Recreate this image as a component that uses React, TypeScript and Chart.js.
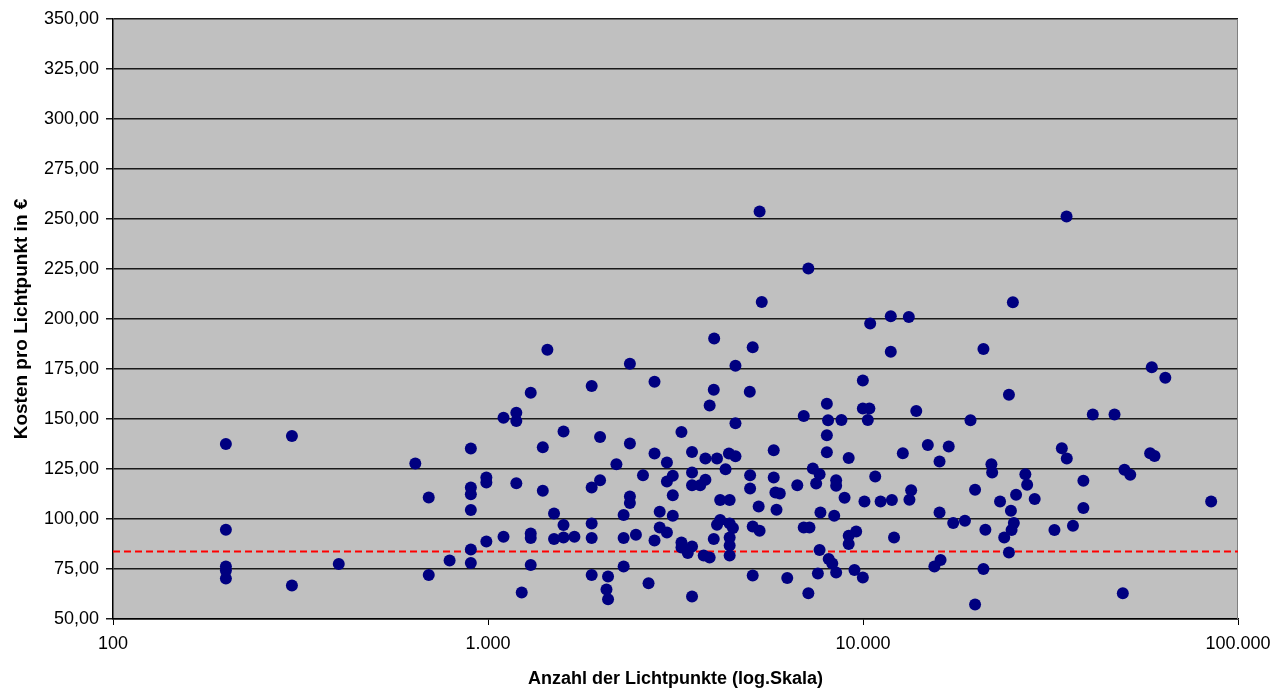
import React, { useEffect, useRef } from "react";
import { Chart, registerables } from "chart.js";

Chart.register(...registerables);

// Anzahl der Lichtpunkte (x) and Kosten pro Lichtpunkt in € (y), same order
const lichtpunkte: number[] = [
  200, 300, 200, 200, 200, 200, 300, 400, 1440, 2390,
  2780, 1890, 1300, 1190, 1100, 1190, 1590, 1990, 2390, 2780,
  900, 1400, 640, 2200, 2590, 990, 990, 1190, 900, 900,
  1400, 1890, 1990, 2390, 2390, 695, 900, 1500, 2300, 2870,
  1890, 1590, 2870, 1100, 1300, 1300, 990, 1500, 1590, 1700,
  1890, 2300, 2480, 2780, 900, 900, 790, 1300, 2300, 695,
  1890, 2090, 2680, 2070, 2090, 1230, 7150, 5370, 4010, 5080,
  4570, 10450, 11860, 11860, 4000, 3900, 4990, 9990, 4570, 3280,
  6950, 8010, 8070, 8760, 8010, 8010, 9990, 10400, 10300, 9160,
  3000, 3500, 3800, 4080, 4390, 4570, 5780, 3000, 3110, 3500,
  3800, 3680, 3500, 4300, 5000, 5000, 5780, 5840, 6000, 6680,
  7350, 7660, 7500, 8480, 8480, 10780, 3110, 4160, 4410, 5270,
  5880, 8930, 10090, 11140, 11940, 3110, 7700, 8380, 4160, 4080,
  4410, 4500, 5080, 5300, 6950, 7200, 3000, 3280, 3280, 3500,
  3410, 4000, 3760, 3900, 4410, 4410, 4410, 7660, 8100, 8280,
  8480, 7580, 9160, 9160, 9590, 9490, 9990, 12100, 3500, 5080,
  6280, 7150, 5300, 34900, 13250, 25100, 20950, 24500, 13870, 19350,
  41000, 46850, 12770, 14890, 16930, 16000, 22000, 22100, 27100, 27400,
  38700, 49800, 51600, 13440, 13300, 19900, 23200, 25600, 28700, 38700,
  16000, 17400, 18700, 24800, 25250, 24900, 21200, 23800, 32400, 36300,
  24500, 15500, 16100, 20950, 19900, 49300, 58900, 64000, 33900, 34950,
  58300, 59900, 84800,
];

const kosten: number[] = [
  137.5, 141.5, 94.6, 76.3, 74.2, 70.3, 66.7, 77.5, 184.6, 177.6,
  168.6, 166.5, 163.1, 153.1, 150.6, 149.0, 143.7, 141.0, 137.7, 132.7,
  135.2, 135.9, 127.7, 127.4, 121.9, 120.7, 118.2, 117.9, 115.7, 112.4,
  114.1, 115.7, 119.4, 111.2, 108.0, 110.7, 104.5, 102.8, 102.0, 103.6,
  97.8, 97.0, 95.8, 91.1, 92.8, 90.5, 88.8, 90.0, 90.8, 91.1,
  90.5, 90.5, 92.1, 89.2, 84.8, 78.0, 79.2, 77.0, 76.2, 72.0,
  72.0, 71.3, 67.9, 64.7, 59.9, 63.2, 225.2, 208.5, 190.2, 185.9,
  176.6, 197.7, 201.4, 183.6, 164.6, 156.8, 163.6, 169.3, 147.9, 143.5,
  151.5, 157.6, 149.4, 149.5, 141.9, 133.4, 155.3, 155.3, 149.5, 130.5,
  128.2, 133.5, 130.2, 130.2, 132.7, 131.4, 134.4, 118.7, 121.6, 123.2,
  119.6, 116.9, 116.9, 124.9, 121.9, 115.2, 120.7, 113.2, 112.7, 116.9,
  125.2, 122.4, 117.7, 119.4, 116.6, 121.2, 111.9, 109.5, 109.5, 106.3,
  104.6, 110.6, 108.8, 108.8, 109.5, 101.6, 103.3, 101.6, 99.5, 97.1,
  97.8, 95.5, 96.3, 94.1, 95.8, 95.8, 93.3, 88.3, 85.8, 86.2,
  83.0, 90.0, 81.7, 80.8, 90.8, 86.7, 81.7, 84.5, 80.0, 77.8,
  73.3, 72.8, 91.6, 87.5, 93.8, 74.5, 70.8, 90.8, 61.2, 71.7,
  70.5, 62.9, 253.7, 251.2, 201.0, 208.4, 185.0, 162.1, 154.0, 149.4,
  152.3, 152.3, 132.9, 137.0, 136.2, 128.7, 127.4, 123.2, 122.4, 117.1,
  119.1, 124.6, 122.1, 114.4, 109.6, 114.6, 108.8, 112.1, 110.0, 105.5,
  103.3, 98.0, 99.1, 104.1, 98.0, 94.5, 94.6, 90.8, 94.5, 96.6,
  83.3, 76.2, 79.5, 75.0, 57.2, 62.9, 175.9, 170.6, 135.4, 130.2,
  132.9, 131.5, 108.8,
];

// Reference line (average cost)
const referenzX: number[] = [100, 100000];
const referenzY: number[] = [83.7, 83.7];

const xTickValues: number[] = [100, 1000, 10000, 100000];
const xTickLabels: string[] = ["100", "1.000", "10.000", "100.000"];

const FONT = "'Liberation Sans', Arial, sans-serif";

const plotBackground = {
  id: "plotBackground",
  beforeDraw(chart: any) {
    const { ctx, chartArea } = chart;
    ctx.save();
    ctx.fillStyle = "#C0C0C0";
    ctx.fillRect(chartArea.left, chartArea.top, chartArea.right - chartArea.left, chartArea.bottom - chartArea.top);
    ctx.restore();
  },
  beforeDatasetsDraw(chart: any) {
    const { ctx, chartArea } = chart;
    ctx.save();
    ctx.strokeStyle = "#808080";
    ctx.lineWidth = 1;
    ctx.beginPath();
    ctx.moveTo(Math.round(chartArea.right) - 0.5, chartArea.top);
    ctx.lineTo(Math.round(chartArea.right) - 0.5, chartArea.bottom);
    ctx.stroke();
    ctx.restore();
  },
};

export default function App() {
  const canvasRef = useRef<HTMLCanvasElement | null>(null);

  useEffect(() => {
    const canvas = canvasRef.current;
    if (!canvas) return;
    const points = lichtpunkte.map((x, i) => ({ x, y: kosten[i] }));
    const refLine = referenzX.map((x, i) => ({ x, y: referenzY[i] }));

    const chart = new Chart(canvas, {
      type: "scatter",
      data: {
        datasets: [
          {
            type: "scatter",
            data: points,
            backgroundColor: "#000080",
            borderColor: "#000080",
            borderWidth: 0,
            pointRadius: 6,
            order: 1,
          },
          {
            type: "line",
            data: refLine,
            borderColor: "#FF0000",
            borderWidth: 2,
            borderDash: [7, 4],
            pointRadius: 0,
            fill: false,
            order: 2,
          } as any,
        ],
      },
      options: {
        responsive: false,
        animation: false,
        layout: { padding: { top: 19, right: 38, left: 0, bottom: 0 } },
        plugins: {
          legend: { display: false },
          tooltip: { enabled: false },
          title: { display: false },
        },
        scales: {
          x: {
            type: "logarithmic",
            min: 100,
            max: 100000,
            afterBuildTicks(scale: any) {
              scale.ticks = xTickValues.map((v) => ({ value: v }));
            },
            afterFit(scale: any) {
              scale.height = 71;
              scale.paddingRight = 0;
              scale.paddingLeft = 0;
            },
            ticks: {
              color: "#000",
              font: { family: FONT, size: 18 },
              padding: 8,
              autoSkip: false,
              maxRotation: 0,
              callback: (value: any) => {
                const idx = xTickValues.indexOf(Number(value));
                return idx >= 0 ? xTickLabels[idx] : "";
              },
            },
            grid: {
              display: true,
              drawOnChartArea: false,
              drawTicks: true,
              tickLength: 6,
              color: "#000",
            },
            border: { display: true, color: "#000", width: 1.5 },
            title: {
              display: true,
              text: "Anzahl der Lichtpunkte (log.Skala)",
              color: "#000",
              font: { family: FONT, size: 18, weight: "bold" },
              padding: { top: 0, bottom: 0 },
            },
          },
          y: {
            type: "linear",
            min: 50,
            max: 350,
            afterFit(scale: any) {
              scale.width = 113;
            },
            ticks: {
              stepSize: 25,
              color: "#000",
              font: { family: FONT, size: 18 },
              padding: 7,
              callback: (value: any) => Number(value).toFixed(2).replace(".", ","),
            },
            grid: {
              display: true,
              drawOnChartArea: true,
              drawTicks: true,
              tickLength: 7,
              color: "#1a1a1a",
              lineWidth: 1.5,
            },
            border: { display: true, color: "#000", width: 1.5 },
            title: {
              display: true,
              text: "Kosten pro Lichtpunkt in €",
              color: "#000",
              font: { family: FONT, size: 19, weight: "bold" },
              padding: { top: 10, bottom: 0 },
            },
          },
        },
      },
      plugins: [plotBackground],
    });

    return () => chart.destroy();
  }, []);

  return (
    <div style={{ position: "fixed", left: 0, top: 0, width: 1276, height: 690, background: "#fff" }}>
      <canvas ref={canvasRef} width={1276} height={690} />
    </div>
  );
}
